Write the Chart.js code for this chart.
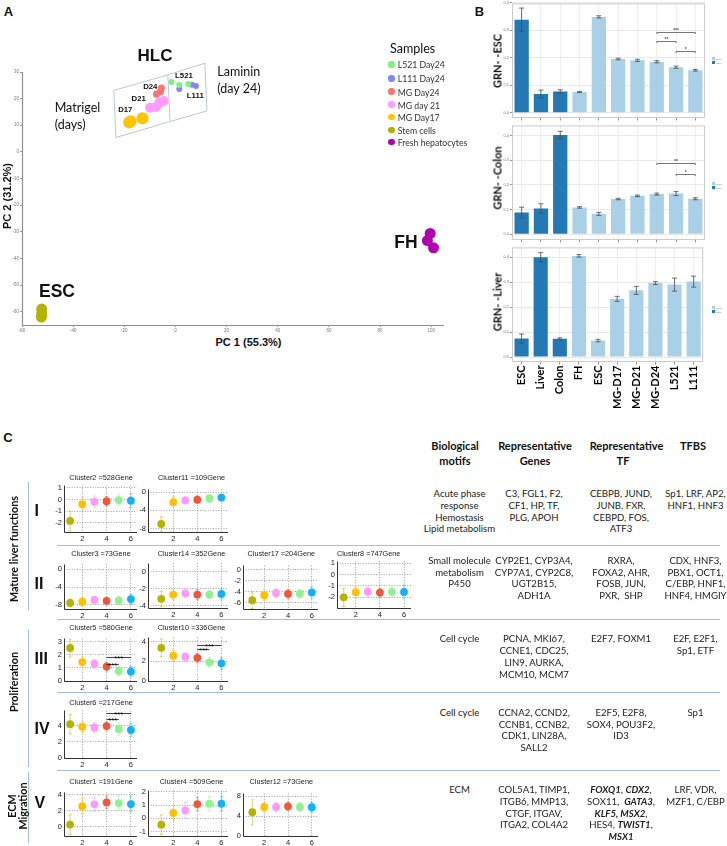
<!DOCTYPE html>
<html>
<head>
<meta charset="utf-8">
<script src="https://cdn.jsdelivr.net/npm/chart.js@4.4.1/dist/chart.umd.min.js"></script>
<style>
  html, body { margin: 0; padding: 0; background: #fff; }
  #page { position: relative; width: 727px; height: 846px; overflow: hidden; color: #111; }
  #page canvas { position: absolute; }
  .t { position: absolute; white-space: nowrap; line-height: 1; }
  .hl { position: absolute; height: 0; border-top: 1.5px solid #a3bfe0; }
  .vl { position: absolute; width: 0; border-left: 1.5px solid #a3bfe0; }
  .cell { position: absolute; width: 130px; text-align: center; font: 9.6px Lato, sans-serif; line-height: 11.8px; color: #222; white-space: nowrap; }
  .dot { position: absolute; border-radius: 50%; }
  .sq { position: absolute; width: 3px; height: 3px; }
</style>
</head>
<body>
<div id="page"></div>
<script>
  // ---------- panel A : PCA [PC1, PC2] ----------
  const sampleNames = ['L521 Day24', 'L111 Day24', 'MG Day24', 'MG day 21', 'MG Day17', 'Stem cells', 'Fresh hepatocytes'];
  const pcaL521 = [[-1.6, 26.2], [1.5, 25.1], [5.0, 25.5]];
  const pcaL111 = [[1.5, 23.6], [6.5, 25.2], [8.0, 24.7]];
  const pcaMG24 = [[-7.4, 21.7], [-5.9, 22.6], [-5.5, 24.0]];
  const pcaMG21 = [[-9.9, 16.6], [-7.6, 16.9], [-6.3, 18.5], [-4.6, 19.1]];
  const pcaMG17 = [[-18.1, 11.0], [-17.5, 11.5], [-12.9, 12.6]];
  const pcaESC = [[-52.3, -59.0], [-52.3, -60.8], [-52.4, -62.0]];
  const pcaFH = [[99.6, -30.6], [98.5, -33.3], [100.9, -36.0]];
  const pc1Ticks = [-60, -40, -20, 0, 20, 40, 60, 80, 100];
  const pc2Ticks = [-60, -50, -40, -30, -20, -10, 0, 10, 20, 30];
  const boxMatrigel = [[-24.1, 23.1], [-3.0, 28.9], [-2.1, 11.4], [-23.3, 5.4], [-24.1, 23.1]];
  const boxLaminin = [[-3.0, 28.9], [11.5, 33.3], [12.3, 15.4], [-2.1, 11.4]];

  // ---------- panel B : GRN status ----------
  const grnCategories = ['ESC', 'Liver', 'Colon', 'FH', 'ESC', 'MG-D17', 'MG-D21', 'MG-D24', 'L521', 'L111'];
  const grnSet = ['train', 'train', 'train', 'query', 'query', 'query', 'query', 'query', 'query', 'query'];
  const grnEsc = [0.338, 0.068, 0.077, 0.075, 0.348, 0.195, 0.190, 0.185, 0.165, 0.154];
  const grnEscErr = [0.042, 0.014, 0.006, 0.002, 0.004, 0.003, 0.004, 0.004, 0.004, 0.003];
  const grnColon = [0.088, 0.105, 0.402, 0.109, 0.083, 0.143, 0.156, 0.163, 0.165, 0.144];
  const grnColonErr = [0.022, 0.019, 0.015, 0.003, 0.006, 0.003, 0.003, 0.004, 0.008, 0.004];
  const grnLiver = [0.074, 0.400, 0.073, 0.405, 0.066, 0.233, 0.267, 0.296, 0.290, 0.302];
  const grnLiverErr = [0.018, 0.018, 0.004, 0.005, 0.005, 0.010, 0.016, 0.006, 0.026, 0.022];
  const grnTicks = [0, 0.1, 0.2, 0.3, 0.4];
  const escSig = [[7, 9, 0.293, '***'], [7, 8, 0.261, '**'], [8, 9, 0.225, '*']];
  const colonSig = [[7, 9, 0.288, '**'], [8, 9, 0.246, '*']];

  // ---------- panel C : cluster profiles ----------
  const stageX = [1, 2, 3, 4, 5, 6];
  const clusterXTicks = [2, 4, 6];
  const cl2Mean = [-1.83, -0.4, -0.2, -0.15, -0.05, -0.1];
  const cl2Err = [0.85, 0.6, 0.5, 0.4, 0.45, 0.6];
  const cl11Mean = [-7.0, -2.2, -1.8, -1.65, -1.4, -1.2];
  const cl11Err = [1.6, 1.2, 0.8, 0.8, 0.8, 0.7];
  const cl3Mean = [-7.57, -7.3, -6.9, -7.1, -7.0, -6.7];
  const cl3Err = [0.9, 1.0, 0.9, 0.8, 0.9, 1.1];
  const cl14Mean = [-3.18, -2.67, -2.52, -2.67, -2.67, -2.6];
  const cl14Err = [0.9, 0.6, 0.5, 0.6, 0.5, 0.6];
  const cl17Mean = [-5.5, -4.6, -4.2, -4.35, -4.3, -4.1];
  const cl17Err = [1.5, 1.0, 0.8, 0.8, 0.8, 1.0];
  const cl8Mean = [-2.0, -1.55, -1.5, -1.58, -1.52, -1.52];
  const cl8Err = [0.8, 0.5, 0.5, 0.4, 0.5, 0.6];
  const cl5Mean = [2.52, 1.44, 1.32, 1.1, 0.77, 0.72];
  const cl5Err = [0.68, 0.45, 0.35, 0.35, 0.35, 0.4];
  const cl5Sig = [[4, 6, 1.82, '***'], [4, 5, 1.32, '***']];
  const cl10Mean = [3.36, 2.56, 2.46, 2.34, 1.89, 1.79];
  const cl10Err = [0.9, 0.55, 0.4, 0.45, 0.5, 0.6];
  const cl10Sig = [[4, 6, 3.62, '***'], [4, 5, 3.2, '***']];
  const cl6Mean = [4.2, 3.88, 3.8, 3.96, 3.57, 3.49];
  const cl6Err = [1.2, 0.7, 0.6, 0.5, 0.8, 0.8];
  const cl6Sig = [[4, 6, 5.6, '***'], [4, 5, 4.82, '***']];
  const cl1Mean = [0.24, 2.56, 2.8, 3.04, 2.96, 2.84];
  const cl1Err = [1.25, 1.0, 0.9, 0.8, 0.9, 1.0];
  const cl4Mean = [-0.48, 0.4, 0.6, 1.07, 1.1, 1.1];
  const cl4Err = [0.75, 0.6, 0.6, 0.5, 0.55, 0.55];
  const cl12Mean = [4.75, 5.8, 5.8, 5.94, 5.8, 5.75];
  const cl12Err = [2.5, 1.0, 1.0, 0.9, 0.9, 1.0];

  // ---------- setup ----------
  const page = document.getElementById('page');
  const ARIAL = "'Liberation Sans', Arial, sans-serif";
  const CALIBRI = "Lato, 'Open Sans', sans-serif";
  Chart.defaults.font.family = ARIAL;
  Chart.defaults.animation = false;
  Chart.defaults.responsive = false;
  Chart.defaults.devicePixelRatio = 1;
  Chart.defaults.events = [];
  Chart.defaults.plugins.legend.display = false;
  Chart.defaults.plugins.tooltip.enabled = false;

  const sampleColors = ['#7ef07e', '#8484ff', '#ff7373', '#ff9cff', '#ffc400', '#b5b200', '#b000b0'];
  const stageColors = ['#b3b300', '#ffc000', '#ff99ff', '#f0573a', '#8ff28f', '#12b2f5'];

  function addCanvas(left, top, w, h) {
    const c = document.createElement('canvas');
    c.width = w;
    c.height = h;
    c.style.left = left + 'px';
    c.style.top = top + 'px';
    c.style.width = w + 'px';
    c.style.height = h + 'px';
    page.appendChild(c);
    return c;
  }

  function txt(s, x, y, font, opts = {}) {
    const d = document.createElement('div');
    d.className = 't';
    d.innerHTML = s;
    d.style.left = x + 'px';
    d.style.top = y + 'px';
    d.style.font = font;
    const ax = opts.left ? '0' : '-50%';
    d.style.transform = 'translate(' + ax + ', -50%)' + (opts.rot ? ' rotate(' + opts.rot + 'deg)' : '');
    if (opts.color) d.style.color = opts.color;
    page.appendChild(d);
  }

  function line(cls, x, y, len) {
    const d = document.createElement('div');
    d.className = cls;
    d.style.left = x + 'px';
    d.style.top = y + 'px';
    if (cls === 'hl') d.style.width = len + 'px';
    else d.style.height = len + 'px';
    page.appendChild(d);
  }

  // error bars drawn through the chart scales
  function errorBarPlugin(xs, means, errs, colors, cap, width, below) {
    const draw = function (chart) {
      const { ctx, scales: { x, y } } = chart;
      ctx.save();
      ctx.lineWidth = width;
      errs.forEach(function (e, i) {
        const px = x.getPixelForValue(xs[i]);
        const top = y.getPixelForValue(means[i] + e);
        const bot = y.getPixelForValue(means[i] - e);
        ctx.strokeStyle = Array.isArray(colors) ? colors[i] : colors;
        ctx.beginPath();
        ctx.moveTo(px, top); ctx.lineTo(px, bot);
        ctx.moveTo(px - cap, top); ctx.lineTo(px + cap, top);
        ctx.moveTo(px - cap, bot); ctx.lineTo(px + cap, bot);
        ctx.stroke();
      });
      ctx.restore();
    };
    return below
      ? { id: 'errBelow', beforeDatasetsDraw: draw }
      : { id: 'errAbove', afterDatasetsDraw: draw };
  }

  // significance brackets
  function bracketPlugin(items, color, font, tick, textDy) {
    return {
      id: 'brackets',
      afterDatasetsDraw(chart) {
        const { ctx, scales: { x, y } } = chart;
        ctx.save();
        ctx.strokeStyle = color;
        ctx.fillStyle = color;
        ctx.lineWidth = 0.8;
        ctx.font = font;
        ctx.textAlign = 'center';
        items.forEach(function (it) {
          const x1 = x.getPixelForValue(it[0]);
          const x2 = x.getPixelForValue(it[1]);
          const py = Math.round(y.getPixelForValue(it[2])) + 0.5;
          ctx.beginPath();
          ctx.moveTo(x1, py + tick); ctx.lineTo(x1, py); ctx.lineTo(x2, py); ctx.lineTo(x2, py + tick);
          ctx.stroke();
          ctx.fillText(it[3], (x1 + x2) / 2, py + textDy);
        });
        ctx.restore();
      }
    };
  }

  const framePlugin = {
    id: 'frame',
    afterDraw(chart) {
      const { ctx, chartArea: a } = chart;
      ctx.save();
      ctx.strokeStyle = '#cbcbcb';
      ctx.lineWidth = 1;
      ctx.strokeRect(a.left + 0.5, a.top + 0.5, a.right - a.left - 1, a.bottom - a.top - 1);
      ctx.restore();
    }
  };

  // solid left + bottom axis lines along the chart area
  function axesPlugin(color, width) {
    return {
      id: 'axes',
      afterDraw(chart) {
        const { ctx, chartArea: a } = chart;
        ctx.save();
        ctx.strokeStyle = color;
        ctx.lineWidth = width;
        ctx.beginPath();
        ctx.moveTo(a.left + 0.5, a.top);
        ctx.lineTo(a.left + 0.5, a.bottom + 0.5);
        ctx.lineTo(a.right, a.bottom + 0.5);
        ctx.stroke();
        ctx.restore();
      }
    };
  }

  function fixedTicks(vals) {
    return function (scale) {
      scale.ticks = vals.map(function (v) { return { value: v }; });
    };
  }

  // ---------- panel A ----------
  {
    const L = 22, R = 446, T = 72, B = 325;
    const yW = 12, padT = 14, padR = 4, xH = 9;
    const cv = addCanvas(L - yW, T - padT, R - L + yW + padR, B - T + padT + xH);
    const toPts = function (arr) { return arr.map(function (p) { return { x: p[0], y: p[1] }; }); };
    const groups = [pcaL521, pcaL111, pcaMG24, pcaMG21, pcaMG17, pcaESC, pcaFH];
    const radius = [3, 3, 3.6, 5, 6, 5.5, 5.5];
    const datasets = [boxMatrigel, boxLaminin].map(function (b) {
      return { data: toPts(b), showLine: true, pointRadius: 0, borderColor: '#b9c9dd', borderWidth: 1, clip: false };
    });
    groups.forEach(function (g, i) {
      datasets.push({ data: toPts(g), pointRadius: radius[i], pointBackgroundColor: sampleColors[i], pointBorderWidth: 0 });
    });
    const tickFont = { size: 4.5 };
    const axisGrid = { display: true, drawOnChartArea: false, drawTicks: true, tickLength: 2, color: '#999' };
    new Chart(cv, {
      type: 'scatter',
      data: { datasets: datasets },
      options: {
        layout: { padding: { top: padT, right: padR, left: 0, bottom: 0 } },
        scales: {
          x: {
            min: -60, max: 105,
            afterBuildTicks: fixedTicks(pc1Ticks),
            afterFit: function (s) { s.height = xH; },
            grid: axisGrid,
            border: { display: false },
            ticks: { font: tickFont, color: '#777', padding: 1, maxRotation: 0, autoSkip: false }
          },
          y: {
            min: -65, max: 30,
            afterBuildTicks: fixedTicks(pc2Ticks),
            afterFit: function (s) { s.width = yW; },
            grid: axisGrid,
            border: { display: false },
            ticks: { font: tickFont, color: '#777', padding: 1, autoSkip: false }
          }
        }
      },
      plugins: [axesPlugin('#8f8f8f', 1.2)]
    });

    txt('A', 8.5, 11, 'bold 13px ' + ARIAL);
    txt('HLC', 155, 56, 'bold 17px ' + ARIAL);
    txt('ESC', 57, 291, 'bold 17.5px ' + ARIAL);
    txt('FH', 406, 242, 'bold 17.5px ' + ARIAL);
    txt('Matrigel', 54.7, 107.3, '12.5px ' + CALIBRI, { left: true });
    txt('(days)', 54.7, 124, '12.5px ' + CALIBRI, { left: true });
    txt('Laminin', 217.3, 71.3, '12.5px ' + CALIBRI, { left: true });
    txt('(day 24)', 217.3, 88, '12.5px ' + CALIBRI, { left: true });
    txt('D24', 150.3, 86, 'bold 7.8px ' + ARIAL);
    txt('D21', 138.7, 98, 'bold 7.8px ' + ARIAL);
    txt('D17', 125.3, 109.3, 'bold 7.8px ' + ARIAL);
    txt('L521', 184, 74.7, 'bold 7.8px ' + ARIAL);
    txt('L111', 195.3, 95, 'bold 7.8px ' + ARIAL);
    txt('PC 1 (55.3%)', 248.5, 341.7, 'bold 11px ' + ARIAL);
    txt('PC 2 (31.2%)', 6.5, 196, 'bold 11px ' + ARIAL, { rot: -90 });

    txt('Samples', 390, 47.7, '12.5px ' + CALIBRI, { left: true });
    const legY = [64.3, 78.3, 91.7, 104.7, 117, 130, 142];
    sampleNames.forEach(function (n, i) {
      const d = document.createElement('div');
      d.className = 'dot';
      d.style.left = '388px';
      d.style.top = (legY[i] - 3.3) + 'px';
      d.style.width = '6.6px';
      d.style.height = '6.6px';
      d.style.background = sampleColors[i];
      page.appendChild(d);
      txt(n, 397.7, legY[i], '8.7px ' + CALIBRI, { left: true, color: '#333' });
    });
  }

  // ---------- panel B ----------
  function grnPlot(values, errs, sig, T, B, yMin, yMax, showLabels, xH, title, titleY, legY) {
    const L = 512, R = 705, yW = 9, padT = 2, padR = 3;
    const cv = addCanvas(L - yW, T - padT, R - L + yW + padR, B - T + padT + xH);
    new Chart(cv, {
      type: 'bar',
      data: {
        labels: grnCategories,
        datasets: [{
          data: values,
          backgroundColor: grnSet.map(function (s) { return s === 'train' ? '#2479b5' : '#a9d0e6'; }),
          categoryPercentage: 0.74,
          barPercentage: 1
        }]
      },
      options: {
        layout: { padding: { top: padT, right: padR, left: 0, bottom: 0 } },
        scales: {
          x: {
            afterFit: function (s) { s.height = xH; },
            grid: { offset: false, color: '#efefef', tickColor: '#999', tickLength: 2.5 },
            border: { display: false },
            ticks: {
              display: showLabels, minRotation: 90, maxRotation: 90, padding: 1, color: '#000',
              font: { family: CALIBRI, size: 11, weight: 'bold' }
            }
          },
          y: {
            min: yMin, max: yMax,
            afterBuildTicks: fixedTicks(grnTicks),
            afterFit: function (s) { s.width = yW; },
            grid: { color: '#e9e9e9', tickColor: '#999', tickLength: 2 },
            border: { display: false },
            ticks: { font: { size: 4 }, color: '#777', padding: 1, callback: function (v) { return v.toFixed(1); } }
          }
        }
      },
      plugins: [
        errorBarPlugin(grnCategories.map(function (c, i) { return i; }), values, errs, '#4a4a4a', 2.5, 0.8, false),
        bracketPlugin(sig, '#555', 'bold 5px ' + ARIAL, 1.5, -1),
        framePlugin
      ]
    });
    txt(title, 497, titleY, 'bold 11px ' + CALIBRI, { rot: -90 });
    // tiny legend
    [['#a9d0e6', 'query'], ['#2479b5', 'train']].forEach(function (e, i) {
      const s = document.createElement('div');
      s.className = 'sq';
      s.style.left = '711.5px';
      s.style.top = (legY + i * 4) + 'px';
      s.style.background = e[0];
      page.appendChild(s);
      txt(e[1], 716, legY + i * 4 + 1.5, '2.5px ' + ARIAL, { left: true, color: '#777' });
    });
  }

  txt('B', 479.5, 11, 'bold 13px ' + ARIAL);
  grnPlot(grnEsc, grnEscErr, escSig, 2, 118, -0.0195, 0.397, false, 4, 'GRN- -ESC', 60.5, 57);
  grnPlot(grnColon, grnColonErr, colonSig, 124, 240, -0.0228, 0.441, false, 4, 'GRN- -Colon', 178, 182);
  grnPlot(grnLiver, grnLiverErr, [], 246, 362, -0.0198, 0.439, true, 52, 'GRN- -Liver', 301.5, 306);

  // ---------- panel C ----------
  function clusterPlot(p) {
    const yW = 14, padT = 4, padR = 4, xH = 12;
    const left = Math.round(p.L - yW), top = Math.round(p.T - padT);
    const w = Math.round(p.R - p.L) + yW + padR;
    const h = Math.round(p.B - p.T) + padT + xH;
    const cv = addCanvas(left, top, w, h);
    const tickFont = { size: 7.5 };
    const gridOpts = { color: '#8c8c8c', lineWidth: 0.8, drawTicks: false };
    new Chart(cv, {
      type: 'scatter',
      data: {
        datasets: [{
          data: stageX.map(function (s, i) { return { x: s, y: p.mean[i] }; }),
          pointRadius: 3.9,
          pointBackgroundColor: stageColors,
          pointBorderWidth: 0
        }]
      },
      options: {
        layout: { padding: { top: padT, right: padR, left: 0, bottom: 0 } },
        scales: {
          x: {
            min: p.xMin, max: p.xMax,
            afterBuildTicks: fixedTicks(clusterXTicks),
            afterFit: function (s) { s.height = xH; },
            grid: gridOpts,
            border: { display: false, dash: [1, 1.6] },
            ticks: { font: tickFont, color: '#222', padding: 2 }
          },
          y: {
            min: p.yMin, max: p.yMax,
            afterBuildTicks: fixedTicks(p.ticks),
            afterFit: function (s) { s.width = yW; },
            grid: gridOpts,
            border: { display: false, dash: [1, 1.6] },
            ticks: { font: tickFont, color: '#222', padding: 2 }
          }
        }
      },
      plugins: [
        errorBarPlugin(stageX, p.mean, p.err, stageColors.map(function (c) { return c + '88'; }), 1.5, 1, true),
        bracketPlugin(p.sig || [], '#111', '7.5px ' + ARIAL, 0, 3.5),
        axesPlugin('#333', 1)
      ]
    });
    txt(p.title, p.tx, p.ty, '7.3px ' + ARIAL, { color: '#222' });
  }

  const col1 = { L: 64, R: 137, xMin: 0.5, xMax: 6.5, tx: 101 };
  const col2 = { L: 148, R: 228, xMin: -0.1, xMax: 6.55, tx: 191.5 };
  const col3 = { L: 243, R: 318, xMin: 0.22, xMax: 6.52, tx: 281.3 };
  const col4 = { L: 337, R: 411, xMin: 0.44, xMax: 6.58, tx: 368.7 };

  [
    Object.assign({}, col1, { T: 482.5, B: 531.7, ty: 477, yMin: -2.77, yMax: 1.19, ticks: [-2, -1, 0, 1], mean: cl2Mean, err: cl2Err, title: 'Cluster2 =528Gene' }),
    Object.assign({}, col2, { T: 486.5, B: 531.7, ty: 477, yMin: -8.76, yMax: 0.58, ticks: [-8, -6, -4, -2, 0], mean: cl11Mean, err: cl11Err, title: 'Cluster11 =109Gene' }),
    Object.assign({}, col1, { T: 561.7, B: 608.3, ty: 553.3, yMin: -8.93, yMax: 1.07, ticks: [-8, -6, -4, -2, 0], mean: cl3Mean, err: cl3Err, title: 'Cluster3 =73Gene' }),
    Object.assign({}, col2, { T: 561, B: 608.3, ty: 553.3, yMin: -4.26, yMax: 1.0, ticks: [-4, -2, 0], mean: cl14Mean, err: cl14Err, title: 'Cluster14 =352Gene' }),
    Object.assign({}, col3, { T: 562.7, B: 608.3, ty: 553.3, yMin: -7.08, yMax: 0.74, ticks: [-6, -4, -2, 0], mean: cl17Mean, err: cl17Err, title: 'Cluster17 =204Gene' }),
    Object.assign({}, col4, { T: 559, B: 608.3, ty: 553.3, yMin: -2.93, yMax: 1.14, ticks: [-2, -1, 0, 1], mean: cl8Mean, err: cl8Err, title: 'Cluster8 =747Gene' }),
    Object.assign({}, col1, { T: 636, B: 681, ty: 626.7, yMin: 0, yMax: 3.24, ticks: [0, 1, 2, 3], mean: cl5Mean, err: cl5Err, sig: cl5Sig, title: 'Cluster5 =580Gene' }),
    Object.assign({}, col2, { T: 635, B: 681, ty: 626.7, yMin: 0, yMax: 4.4, ticks: [0, 2, 4], mean: cl10Mean, err: cl10Err, sig: cl10Sig, title: 'Cluster10 =336Gene' }),
    Object.assign({}, col1, { T: 708.3, B: 758.3, ty: 702.3, yMin: 0, yMax: 5.9, ticks: [0, 2, 4], mean: cl6Mean, err: cl6Err, sig: cl6Sig, title: 'Cluster6 =217Gene' }),
    Object.assign({}, col1, { T: 790, B: 836, ty: 780.7, yMin: -1.2, yMax: 4.3, ticks: [0, 2, 4], mean: cl1Mean, err: cl1Err, title: 'Cluster1 =191Gene' }),
    Object.assign({}, col2, { T: 787.7, B: 836, ty: 780.7, yMin: -1.34, yMax: 2.1, ticks: [-1, 0, 1, 2], mean: cl4Mean, err: cl4Err, title: 'Cluster4 =509Gene' }),
    Object.assign({}, col3, { T: 790.7, B: 836, ty: 780.7, yMin: 0, yMax: 8.5, ticks: [0, 2, 4, 6, 8], mean: cl12Mean, err: cl12Err, title: 'Cluster12 =73Gene' })
  ].forEach(clusterPlot);

  txt('C', 8, 437, 'bold 13px ' + ARIAL);

  // group separators
  [545, 619.3, 692.3, 770].forEach(function (y) { line('hl', 57, y, 663); });
  line('vl', 28, 482, 128);
  line('vl', 28, 630, 137);
  line('vl', 28, 772, 71);

  // group labels and roman numerals
  txt('Mature liver functions', 13, 549, 'bold 10.8px ' + CALIBRI, { rot: -90 });
  txt('Proliferation', 13, 682, 'bold 10.8px ' + CALIBRI, { rot: -90 });
  txt('ECM', 11, 806, 'bold 10.8px ' + CALIBRI, { rot: -90 });
  txt('Migration', 22, 806, 'bold 10.8px ' + CALIBRI, { rot: -90 });
  [['I', 510.7], ['II', 584.3], ['III', 659.3], ['IV', 729], ['V', 803.3]].forEach(function (r) {
    txt(r[0], 34.5, r[1], 'bold 16px ' + ARIAL, { left: true });
  });

  // table headers
  txt('Biological', 455, 445, 'bold 11px ' + CALIBRI);
  txt('motifs', 455, 460, 'bold 11px ' + CALIBRI);
  txt('Representative', 535, 445, 'bold 11px ' + CALIBRI);
  txt('Genes', 535, 460, 'bold 11px ' + CALIBRI);
  txt('Representative', 626.5, 445, 'bold 11px ' + CALIBRI);
  txt('TF', 623, 460, 'bold 11px ' + CALIBRI);
  txt('TFBS', 693, 445, 'bold 11px ' + CALIBRI);

  function cell(lines, cx, y0) {
    const d = document.createElement('div');
    d.className = 'cell';
    d.style.left = (cx - 65) + 'px';
    d.style.top = (y0 - 5.9) + 'px';
    d.innerHTML = lines.join('<br>');
    page.appendChild(d);
  }
  const colX = [459.5, 534, 621, 695.5];
  const tableRows = [
    [494, [['Acute phase', 'response', 'Hemostasis', 'Lipid metabolism'], ['C3, FGL1, F2,', 'CF1, HP, TF,', 'PLG, APOH'], ['CEBPB, JUND,', 'JUNB, FXR,', 'CEBPD, FOS,', 'ATF3'], ['Sp1, LRF, AP2,', 'HNF1, HNF3']]],
    [560.7, [['Small molecule', 'metabolism', 'P450'], ['CYP2E1, CYP3A4,', 'CYP7A1, CYP2C8,', 'UGT2B15,', 'ADH1A'], ['RXRA,', 'FOXA2, AHR,', 'FOSB, JUN,', 'PXR,&nbsp; SHP'], ['CDX, HNF3,', 'PBX1, OCT1,', 'C/EBP, HNF1,', 'HNF4, HMGIY']]],
    [639.3, [['Cell cycle'], ['PCNA, MKI67,', 'CCNE1, CDC25,', 'LIN9, AURKA,', 'MCM10, MCM7'], ['E2F7, FOXM1'], ['E2F, E2F1,', 'Sp1, ETF']]],
    [712.7, [['Cell cycle'], ['CCNA2, CCND2,', 'CCNB1, CCNB2,', 'CDK1, LIN28A,', 'SALL2'], ['E2F5, E2F8,', 'SOX4, POU3F2,', 'ID3'], ['Sp1']]],
    [790, [['ECM'], ['COL5A1, TIMP1,', 'ITGB6, MMP13,', 'CTGF, ITGAV,', 'ITGA2, COL4A2'],
      ['<b><i>FOXQ1</i></b>, <b><i>CDX2</i></b>,', 'SOX11,&nbsp; <b><i>GATA3</i></b>,', '<b><i>KLF5, MSX2</i></b>,', 'HES4, <b><i>TWIST1</i></b>,', '<b><i>MSX1</i></b>'],
      ['LRF, VDR,', 'MZF1, C/EBP']]]
  ];
  tableRows.forEach(function (row) {
    row[1].forEach(function (lines, j) { cell(lines, colX[j], row[0]); });
  });
</script>
</body>
</html>
